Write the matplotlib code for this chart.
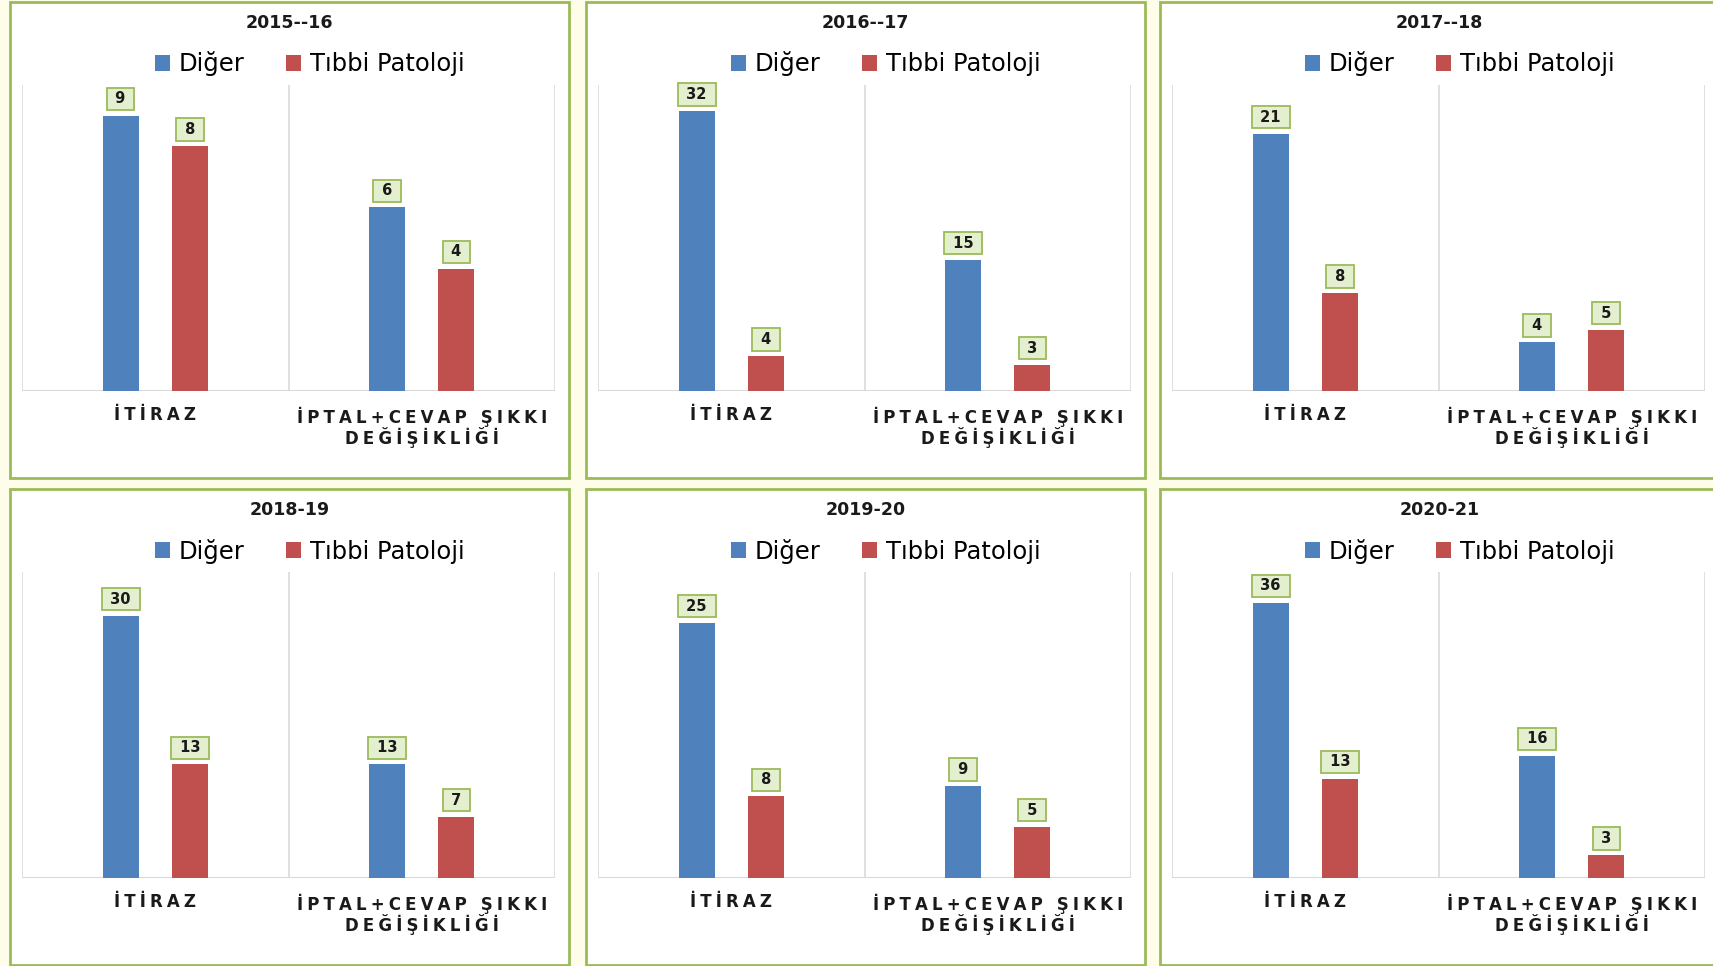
import matplotlib.pyplot as plt
from matplotlib.patches import Rectangle

plt.rcParams['font.family'] = ['DejaVu Sans']

titles = ["2015--16", "2016--17", "2017--18", "2018-19", "2019-20", "2020-21"]
categories = ["İTİRAZ", "İPTAL+CEVAP ŞIKKI\nDEĞİŞİKLİĞİ"]
series_names = ["Diğer", "Tıbbi Patoloji"]
diger = [[9, 6], [32, 15], [21, 4], [30, 13], [25, 9], [36, 16]]
patoloji = [[8, 4], [4, 3], [8, 5], [13, 7], [8, 5], [13, 3]]
ymax = [10, 35, 25, 35, 30, 40]

blue = "#4f81bd"
red = "#c0504d"
green = "#9bbb59"

W, H = 1713, 966
fig = plt.figure(figsize=(W / 100, H / 100), dpi=100)
fig.patch.set_facecolor("#fdfde9")

col_x = [10, 586, 1160]
row_y = [2, 489]
pw, ph = 559, 476


def fx(px):
    return px / W


def fy(py):
    return 1 - py / H


def spaced(label):
    # the source uses wide letter spacing on the category labels
    return "\n".join("\u2005".join(line) for line in label.split("\n"))


for i in range(6):
    r, c = divmod(i, 3)
    x0, y0 = col_x[c], row_y[r]
    # panel frame
    fig.patches.append(Rectangle((fx(x0), fy(y0 + ph)), pw / W, ph / H,
                                 transform=fig.transFigure, facecolor="white",
                                 edgecolor=green, linewidth=2, zorder=-1))
    fig.text(fx(x0 + pw / 2), fy(y0 + 21), titles[i], ha="center", va="center",
             fontsize=12.5, fontweight="bold", color="#1a1a1a")

    ax = fig.add_axes([fx(x0 + 12), fy(y0 + 389), 533 / W, 306 / H])
    ax.set_facecolor("white")
    pos = range(len(categories))
    w = 0.135
    b1 = ax.bar([p - 0.13 for p in pos], diger[i], width=w, color=blue, label=series_names[0], zorder=3)
    b2 = ax.bar([p + 0.13 for p in pos], patoloji[i], width=w, color=red, label=series_names[1], zorder=3)
    ax.set_xlim(-0.5, 1.5)
    ax.set_ylim(0, ymax[i])
    for bars in (b1, b2):
        for rect in bars:
            v = rect.get_height()
            ax.annotate(f" {v:g} ", (rect.get_x() + rect.get_width() / 2, v),
                        xytext=(0, 12), textcoords="offset points", ha="center", va="center",
                        fontsize=10.5, fontweight="bold", color="#1a1a1a",
                        bbox=dict(boxstyle="square,pad=0.25", facecolor="#e4efcf",
                                  edgecolor=green, linewidth=1.3), zorder=5)
    for xv in (-0.5, 0.5, 1.5):
        ax.axvline(xv, color="#d9d9d9", linewidth=1.2, zorder=1)
    for s in ax.spines.values():
        s.set_visible(False)
    ax.axhline(0, color="#d9d9d9", linewidth=1.5, zorder=2)
    ax.set_yticks([])
    ax.set_xticks(list(pos))
    ax.set_xticklabels([spaced(cat) for cat in categories], fontsize=12, fontweight="bold",
                       color="#1a1a1a", linespacing=1.0)
    ax.tick_params(axis="x", length=0, pad=11)

    ax.legend(loc="center", bbox_to_anchor=(fx(x0 + pw / 2 + 20), fy(y0 + 62)),
              bbox_transform=fig.transFigure, ncol=2, frameon=False, fontsize=17.5,
              handlelength=0.63, handleheight=0.63, handletextpad=0.36, columnspacing=1.7)

fig.savefig("out.png", dpi=100, facecolor=fig.get_facecolor())
